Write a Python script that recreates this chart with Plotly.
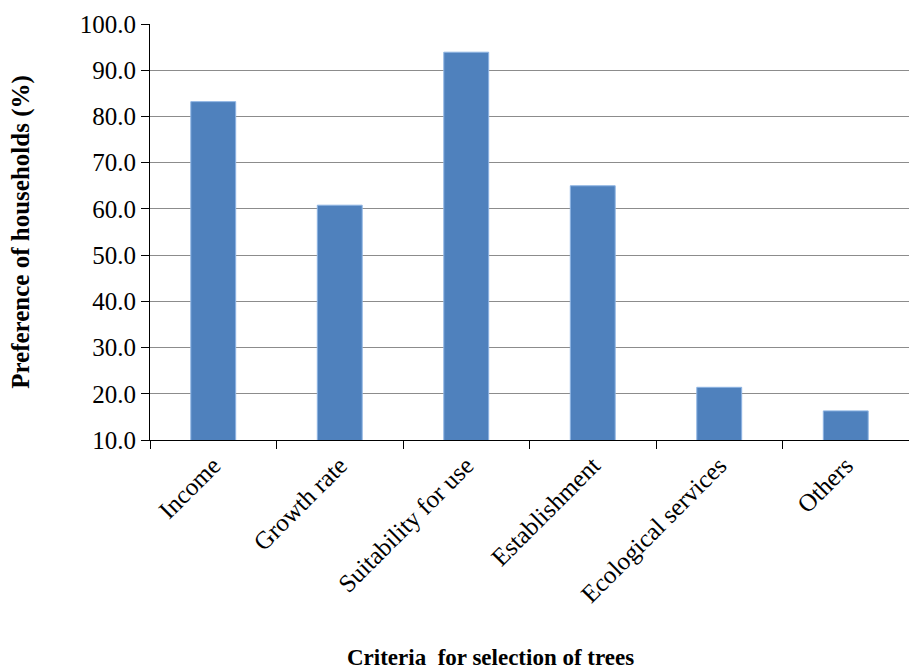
import plotly.graph_objects as go

categories = ["Income", "Growth rate", "Suitability for use", "Establishment",
              "Ecological services", "Others"]
values = [83.2, 60.8, 93.9, 65.0, 21.4, 16.3]
y_ticks = [10, 20, 30, 40, 50, 60, 70, 80, 90, 100]
y_tick_labels = [f"{v:.1f}" for v in y_ticks]
x_title = "Criteria  for selection of trees"
y_title = "Preference of households (%)"

fig = go.Figure()
fig.add_trace(go.Bar(
    x=categories, y=values,
    marker=dict(color="#4F81BD", line=dict(color="#8EB4E3", width=1)),
    width=0.355,
))

font_family = "Liberation Serif, Times New Roman, serif"
fig.update_layout(
    width=909, height=669,
    margin=dict(l=150, r=0, t=24, b=229),
    plot_bgcolor="white", paper_bgcolor="white",
    showlegend=False,
    font=dict(family=font_family, size=25, color="black"),
    xaxis=dict(
        tickangle=-45,
        showline=True, linecolor="black", linewidth=1,
        ticks="outside", ticklen=8, tickcolor="black",
        tickson="boundaries",
        tickfont=dict(size=25),
        automargin=False,
    ),
    yaxis=dict(
        range=[10, 100],
        tickvals=y_ticks, ticktext=y_tick_labels,
        showline=True, linecolor="black", linewidth=1,
        ticks="outside", ticklen=8, tickcolor="black",
        showgrid=True, gridcolor="#8C8C8C", gridwidth=1,
        tickfont=dict(size=25),
        title=dict(text=f"<b>{y_title}</b>",
                   font=dict(size=25), standoff=43),
        automargin=False,
        zeroline=False,
    ),
    annotations=[dict(
        text=f"<b>{x_title}</b>", xref="paper", yref="paper",
        x=0.448, y=-0.524, xanchor="center", yanchor="middle",
        showarrow=False, font=dict(size=23),
    )],
)
fig.write_html("out.html")
